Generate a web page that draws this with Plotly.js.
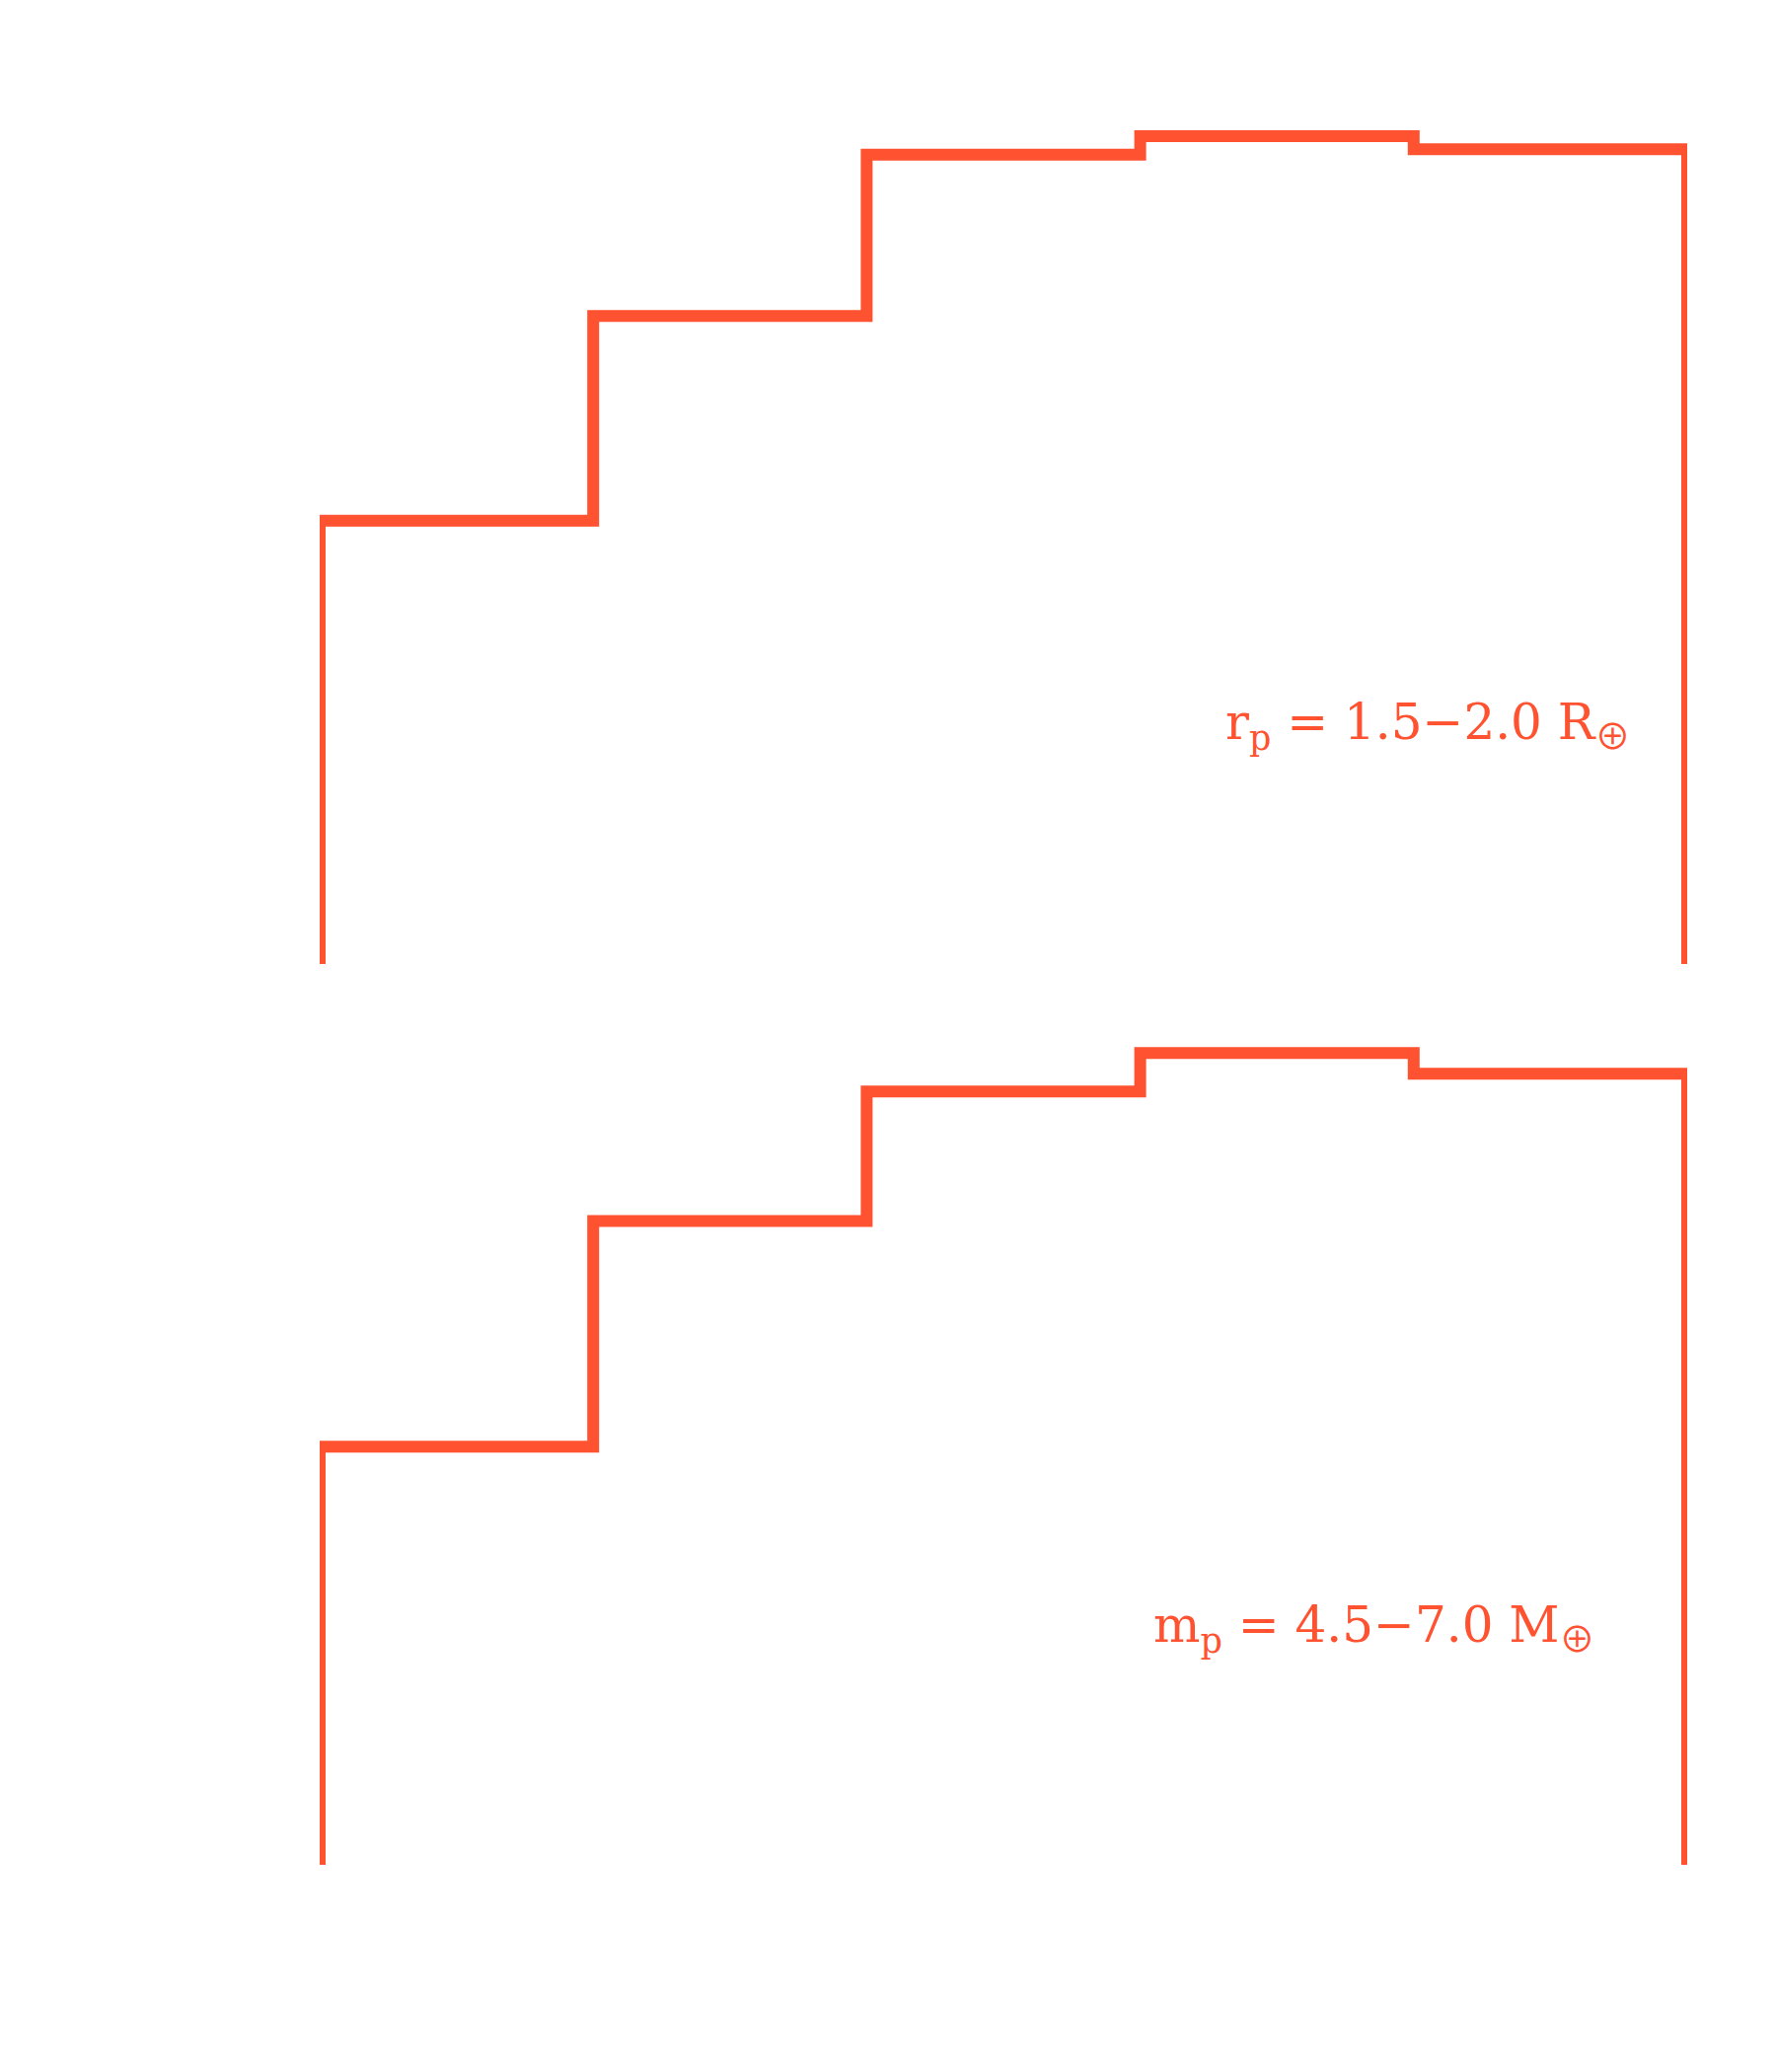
<!DOCTYPE html>
<html>
<head>
<meta charset="utf-8">
<script src="https://cdn.plot.ly/plotly-3.0.1.min.js"></script>
<style>html,body{margin:0;padding:0;background:#fff;}</style>
</head>
<body>
<div id="chart" style="width:1800px;height:2100px;"></div>
<script>
// Histogram bin edges (shared by both panels)
const binEdges = [0, 1, 2, 3, 4, 5];
// Panel 1: planets with r_p = 1.5-2.0 R_earth (fraction per bin)
const radiusValues = [0.1251, 0.1829, 0.2284, 0.2336, 0.2299];
// Panel 2: planets with m_p = 4.5-7.0 M_earth (fraction per bin)
const massValues = [0.1216, 0.1873, 0.2249, 0.2361, 0.2301];
const earthSym = "<span style=\"font-size:36px;font-family:'Noto Sans CJK JP'\">\u2295</span>";
const panelLabels = ["r<sub>p</sub> = 1.5\u22122.0 R<sub>" + earthSym + "</sub>",
                     "m<sub>p</sub> = 4.5\u22127.0 M<sub>" + earthSym + "</sub>"];
const lineColor = "#FF5230";

function stepTrace(edges, vals, xa, ya) {
  const n = vals.length;
  const x = [edges[0]].concat(edges.slice(0, n)).concat([edges[n]]);
  const y = [0].concat(vals).concat([0]);
  return {
    x: x, y: y, xaxis: xa, yaxis: ya, type: "scatter", mode: "lines",
    line: {shape: "hv", color: lineColor, width: 12},
    hoverinfo: "skip", showlegend: false
  };
}

const data = [
  stepTrace(binEdges, radiusValues, "x", "y"),
  stepTrace(binEdges, massValues, "x2", "y2")
];

const hiddenAxis = {showgrid: false, zeroline: false, showline: false,
  showticklabels: false, ticks: "", fixedrange: true};

const layout = {
  width: 1800, height: 2100,
  margin: {l: 0, r: 0, t: 0, b: 0},
  paper_bgcolor: "#ffffff", plot_bgcolor: "#ffffff",
  showlegend: false,
  xaxis: Object.assign({}, hiddenAxis, {domain: [0.18, 0.95], range: [binEdges[0], binEdges[binEdges.length-1]], anchor: "y"}),
  yaxis: Object.assign({}, hiddenAxis, {domain: [0.534762, 0.95], range: [0, 0.24281], anchor: "x"}),
  xaxis2: Object.assign({}, hiddenAxis, {domain: [0.18, 0.95], range: [binEdges[0], binEdges[binEdges.length-1]], anchor: "y2"}),
  yaxis2: Object.assign({}, hiddenAxis, {domain: [0.1, 0.515238], range: [0, 0.25026], anchor: "x2"}),
  annotations: [
    {text: panelLabels[0], xref: "paper", yref: "paper", x: 1240/1800, y: 1 - 737/2100,
     xanchor: "left", yanchor: "middle", showarrow: false,
     font: {family: "DejaVu Serif", size: 50, color: lineColor}},
    {text: panelLabels[1], xref: "paper", yref: "paper", x: 1167/1800, y: 1 - 1651/2100,
     xanchor: "left", yanchor: "middle", showarrow: false,
     font: {family: "DejaVu Serif", size: 50, color: lineColor}}
  ]
};

Plotly.newPlot("chart", data, layout, {displayModeBar: false, staticPlot: true});
</script>
</body>
</html>
